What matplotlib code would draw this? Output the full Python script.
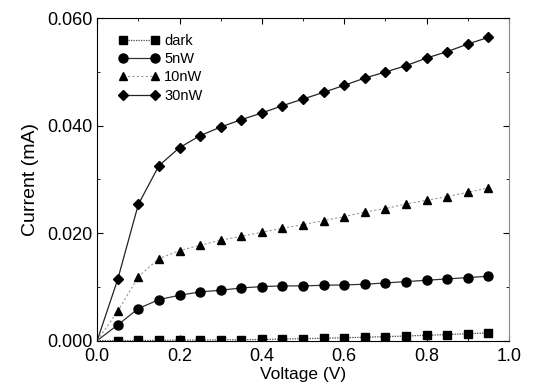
import matplotlib
matplotlib.use("Agg")
import matplotlib.pyplot as plt
from matplotlib.ticker import MultipleLocator, FormatStrFormatter

plt.rcParams['font.family'] = ['Liberation Sans', 'DejaVu Sans']

# Voltage points (V)
voltage = [0.0, 0.05, 0.10, 0.15, 0.20, 0.25, 0.30, 0.35, 0.40, 0.45, 0.50,
           0.55, 0.60, 0.65, 0.70, 0.75, 0.80, 0.85, 0.90, 0.95]

# Current (mA) for each illumination level
dark = [0.0, 0.00000, 0.00002, 0.00004, 0.00007, 0.00010, 0.00013, 0.00017,
        0.00020, 0.00027, 0.00035, 0.00043, 0.00052, 0.00062, 0.00073,
        0.00085, 0.00098, 0.00112, 0.00127, 0.00143]
p5nw = [0.0, 0.00292, 0.00596, 0.00763, 0.00844, 0.00906, 0.00937, 0.00980,
        0.01005, 0.01018, 0.01018, 0.01030, 0.01036, 0.01049, 0.01073,
        0.01098, 0.01123, 0.01148, 0.01173, 0.01198]
p10nw = [0.0, 0.00546, 0.01191, 0.01526, 0.01675, 0.01775, 0.01868, 0.01942,
         0.02017, 0.02091, 0.02159, 0.02234, 0.02308, 0.02395, 0.02457,
         0.02544, 0.02612, 0.02681, 0.02761, 0.02842]
p30nw = [0.0, 0.01142, 0.02538, 0.03257, 0.03593, 0.03816, 0.03977, 0.04114,
         0.04238, 0.04374, 0.04498, 0.04623, 0.04753, 0.04889, 0.05001,
         0.05119, 0.05262, 0.05380, 0.05522, 0.05646]

fig = plt.figure(figsize=(5.34, 3.91), dpi=100)
ax = fig.add_axes([0.182, 0.129, 0.771, 0.824])

pts = range(1, len(voltage))
ax.plot(voltage, dark, color='#444444', lw=0.9, ls=(0, (1, 1)), marker='s',
        ms=5.5, mfc='black', mec='black', markevery=pts, label='dark')
ax.plot(voltage, p5nw, color='#333333', lw=0.9, ls='-', marker='o',
        ms=6.5, mfc='black', mec='black', markevery=pts, label='5nW')
ax.plot(voltage, p10nw, color='#999999', lw=0.8, ls=(0, (2, 2)), marker='^',
        ms=5.5, mfc='black', mec='black', markevery=pts, label='10nW')
ax.plot(voltage, p30nw, color='#222222', lw=0.9, ls='-', marker='D',
        ms=5, mfc='black', mec='black', markevery=pts, label='30nW')

ax.set_xlim(0, 1.0)
ax.set_ylim(0, 0.060)
ax.xaxis.set_major_locator(MultipleLocator(0.2))
ax.xaxis.set_minor_locator(MultipleLocator(0.1))
ax.yaxis.set_major_locator(MultipleLocator(0.02))
ax.yaxis.set_minor_locator(MultipleLocator(0.01))
ax.xaxis.set_major_formatter(FormatStrFormatter('%.1f'))
ax.yaxis.set_major_formatter(FormatStrFormatter('%.3f'))
ax.tick_params(which='both', direction='in', top=True, right=True, labelsize=13)
ax.tick_params(axis='x', pad=5)
ax.tick_params(which='major', length=4)
ax.tick_params(which='minor', length=2.5)
ax.spines['right'].set_color('#888888')

ax.set_xlabel('Voltage (V)', fontsize=12.5, labelpad=2)
ax.set_ylabel('Current (mA)', fontsize=14, labelpad=6)

ax.legend(loc='upper left', bbox_to_anchor=(0.014, 1.0), frameon=False,
          numpoints=2, handlelength=2.8, fontsize=10.5, labelspacing=0.3,
          handletextpad=0.35, borderaxespad=0.45, borderpad=0.6)

fig.savefig('out.png', dpi=100)
